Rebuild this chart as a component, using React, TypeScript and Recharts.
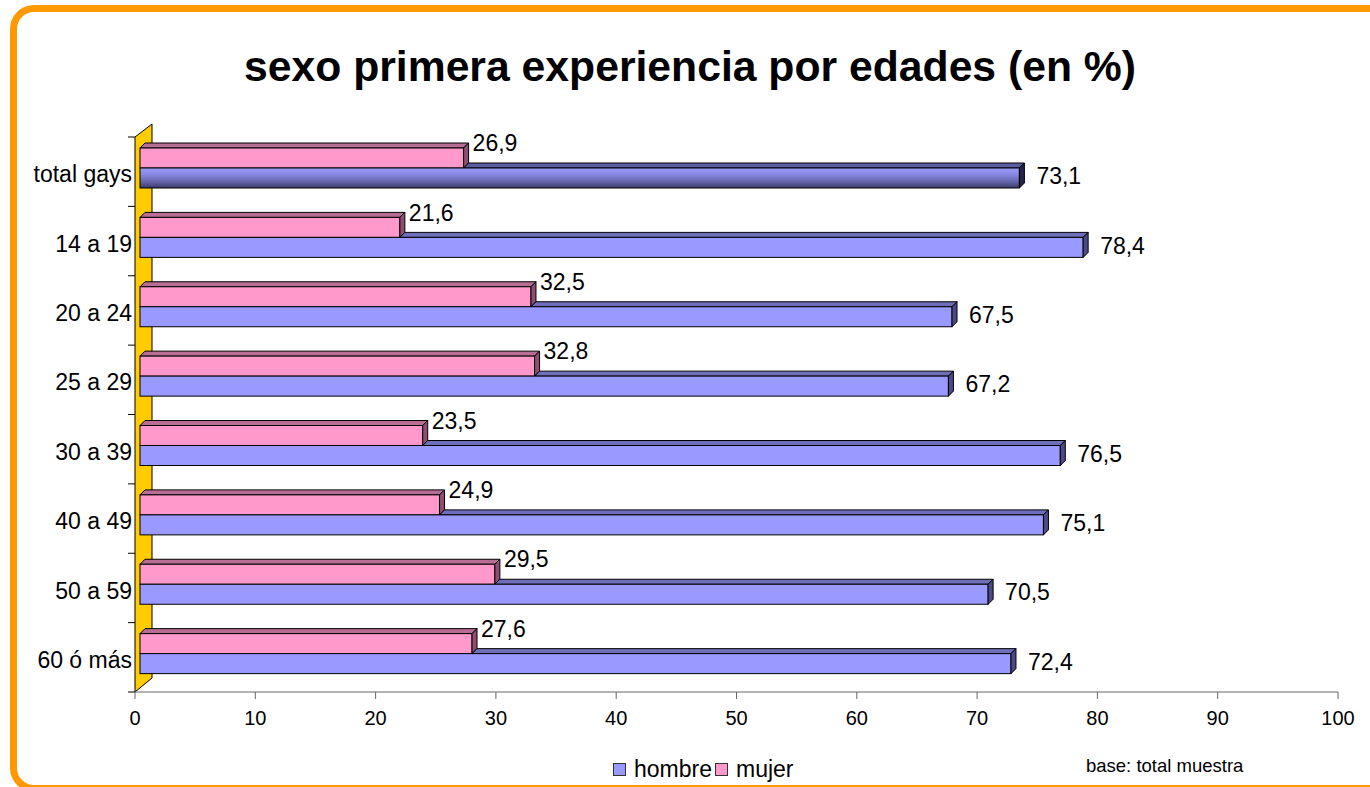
import React from 'react';
import { BarChart, Bar, XAxis, YAxis, LabelList } from 'recharts';

const categories = ['total gays', '14 a 19', '20 a 24', '25 a 29', '30 a 39', '40 a 49', '50 a 59', '60 ó más'];
const hombre = [73.1, 78.4, 67.5, 67.2, 76.5, 75.1, 70.5, 72.4];
const mujer = [26.9, 21.6, 32.5, 32.8, 23.5, 24.9, 29.5, 27.6];
const xTicks = [0, 10, 20, 30, 40, 50, 60, 70, 80, 90, 100];
const seriesNames = ['hombre', 'mujer'];

const data = categories.map((cat, i) => ({ cat, hombre: hombre[i], mujer: mujer[i] }));

// layout
const W = 1370;
const H = 787;
const PLOT_LEFT = 135;
const PLOT_TOP = 137;
const PLOT_RIGHT = 1338;
const PLOT_BOTTOM = 692;
const Y_AXIS_W = 125;
const X_AXIS_H = 30;
const DEPTH = 5; // 3d depth of the bars
const SHIFT_X = 5;
const SHIFT_Y = -4;
const WALL_DX = 17;
const WALL_DY = 13;
const FONT = '"Liberation Sans", Arial, sans-serif';

const PINK = '#FF99CC';
const BLUE = '#9999FF';

const fmt = (v: number) => v.toFixed(1).replace('.', ',');

const poly = (pts: number[][]) => pts.map(p => p.join(',')).join(' ');

const MujerShape = (props: any) => {
  const { x, y, width, height } = props;
  const X = x + SHIFT_X;
  const Y = y + SHIFT_Y;
  return (
    <g stroke="#000" strokeWidth={1}>
      <polygon fill="#B86E94" points={poly([[X, Y], [X + DEPTH, Y - DEPTH], [X + width + DEPTH, Y - DEPTH], [X + width, Y]])} />
      <rect x={X} y={Y} width={width} height={height} fill={PINK} />
      <polygon fill="#8C4F70" points={poly([[X + width, Y], [X + width + DEPTH, Y - DEPTH], [X + width + DEPTH, Y + height - DEPTH], [X + width, Y + height]])} />
    </g>
  );
};

const HombreShape = (props: any) => {
  const { x, y, width, height, index, payload } = props;
  const X = x + SHIFT_X;
  const Y = y + SHIFT_Y;
  const total = index === 0;
  // top face is only visible where it sticks out past the mujer bar above
  const pw = (width * payload.mujer) / payload.hombre;
  const front = total ? 'url(#totalGrad)' : BLUE;
  const top = total ? '#5C5CA3' : '#6E6EBA';
  const side = total ? '#24244A' : '#4A4A85';
  return (
    <g stroke="#000" strokeWidth={1}>
      {width > pw && (
        <polygon fill={top} points={poly([[X + pw, Y], [X + pw + DEPTH, Y - DEPTH], [X + width + DEPTH, Y - DEPTH], [X + width, Y]])} />
      )}
      <rect x={X} y={Y} width={width} height={height} fill={front} />
      <polygon fill={side} points={poly([[X + width, Y], [X + width + DEPTH, Y - DEPTH], [X + width + DEPTH, Y + height - DEPTH], [X + width, Y + height]])} />
    </g>
  );
};

const MujerLabel = (props: any) => {
  const { x, y, width, value } = props;
  return (
    <text x={x + SHIFT_X + width + 9} y={y + SHIFT_Y - DEPTH} dy="0.355em" fontSize={23} fill="#000" fontFamily={FONT}>
      {fmt(value)}
    </text>
  );
};

const HombreLabel = (props: any) => {
  const { x, y, width, height, value } = props;
  return (
    <text x={x + SHIFT_X + width + DEPTH + 12} y={y + SHIFT_Y + height / 2 - 2} dy="0.355em" fontSize={23} fill="#000" fontFamily={FONT}>
      {fmt(value)}
    </text>
  );
};

const CatTick = (props: any) => {
  const { x, y, payload, index } = props;
  const half = payload.offset || (PLOT_BOTTOM - PLOT_TOP) / categories.length / 2;
  const last = index === categories.length - 1;
  return (
    <g>
      <line x1={x - 7} x2={x} y1={y - half} y2={y - half} stroke="#000" />
      {last && <line x1={x - 7} x2={x} y1={y + half} y2={y + half} stroke="#000" />}
      <text x={x - 3} y={y + 2.5} dy="0.355em" textAnchor="end" fontSize={23} fill="#000" fontFamily={FONT}>
        {payload.value}
      </text>
    </g>
  );
};

const LegendBox = ({ color, label }: { color: string; label: string }) => (
  <span style={{ display: 'inline-flex', alignItems: 'center', marginRight: 3 }}>
    <span style={{ width: 11, height: 11, background: color, border: '1px solid #333', marginRight: 8, display: 'inline-block' }} />
    <span>{label}</span>
  </span>
);

export default function App() {
  return (
    <div style={{ position: 'absolute', left: 0, top: 0, width: W, height: H, overflow: 'hidden', background: '#fff', fontFamily: FONT }}>
      {/* orange frame */}
      <div style={{ position: 'absolute', left: 10, top: 5, width: 1400, height: 787, border: '7px solid #FF9900', borderRadius: 24, boxSizing: 'border-box' }} />

      <div style={{ position: 'absolute', left: 0, top: 42, width: 1380, textAlign: 'center', fontSize: 42.7, fontWeight: 'bold', lineHeight: '48px', color: '#000' }}>
        sexo primera experiencia por edades (en %)
      </div>

      {/* yellow side wall */}
      <svg width={W} height={H} style={{ position: 'absolute', left: 0, top: 0 }}>
        <polygon
          points={poly([
            [PLOT_LEFT, PLOT_TOP],
            [PLOT_LEFT + WALL_DX, PLOT_TOP - WALL_DY],
            [PLOT_LEFT + WALL_DX, PLOT_BOTTOM - WALL_DY - 1],
            [PLOT_LEFT, PLOT_BOTTOM],
          ])}
          fill="#FFCC00"
          stroke="#000"
          strokeWidth={1}
        />
      </svg>

      <div style={{ position: 'absolute', left: 0, top: 0 }}>
        <BarChart
          width={W}
          height={H}
          data={data}
          layout="vertical"
          barSize={20}
          barGap={0}
          margin={{ top: PLOT_TOP, bottom: H - PLOT_BOTTOM - X_AXIS_H, left: PLOT_LEFT - Y_AXIS_W, right: W - PLOT_RIGHT }}
        >
          <defs>
            <linearGradient id="totalGrad" x1="0" y1="0" x2="0" y2="1">
              <stop offset="0%" stopColor="#9C9CFA" />
              <stop offset="35%" stopColor="#8686E0" />
              <stop offset="70%" stopColor="#6464AA" />
              <stop offset="100%" stopColor="#383868" />
            </linearGradient>
          </defs>
          <XAxis
            type="number"
            domain={[0, 100]}
            ticks={xTicks}
            interval={0}
            height={X_AXIS_H}
            stroke="#666"
            tickSize={7}
            tickMargin={12}
            tick={{ fontSize: 20, fill: '#000', fontFamily: FONT }}
          />
          <YAxis
            type="category"
            dataKey="cat"
            width={Y_AXIS_W}
            axisLine={false}
            tickLine={false}
            tickSize={0}
            tickMargin={0}
            interval={0}
            tick={<CatTick />}
          />
          <Bar dataKey="mujer" name={seriesNames[1]} fill={PINK} shape={<MujerShape />} isAnimationActive={false}>
            <LabelList dataKey="mujer" content={<MujerLabel />} />
          </Bar>
          <Bar dataKey="hombre" name={seriesNames[0]} fill={BLUE} shape={<HombreShape />} isAnimationActive={false}>
            <LabelList dataKey="hombre" content={<HombreLabel />} />
          </Bar>
        </BarChart>
      </div>

      <div style={{ position: 'absolute', left: 613, top: 756, fontSize: 23, lineHeight: '27px', color: '#000', display: 'flex' }}>
        <LegendBox color={BLUE} label={seriesNames[0]} />
        <LegendBox color={PINK} label={seriesNames[1]} />
      </div>

      <div style={{ position: 'absolute', left: 1086, top: 755, fontSize: 18.5, lineHeight: '22px', color: '#000' }}>
        base: total muestra
      </div>
    </div>
  );
}
